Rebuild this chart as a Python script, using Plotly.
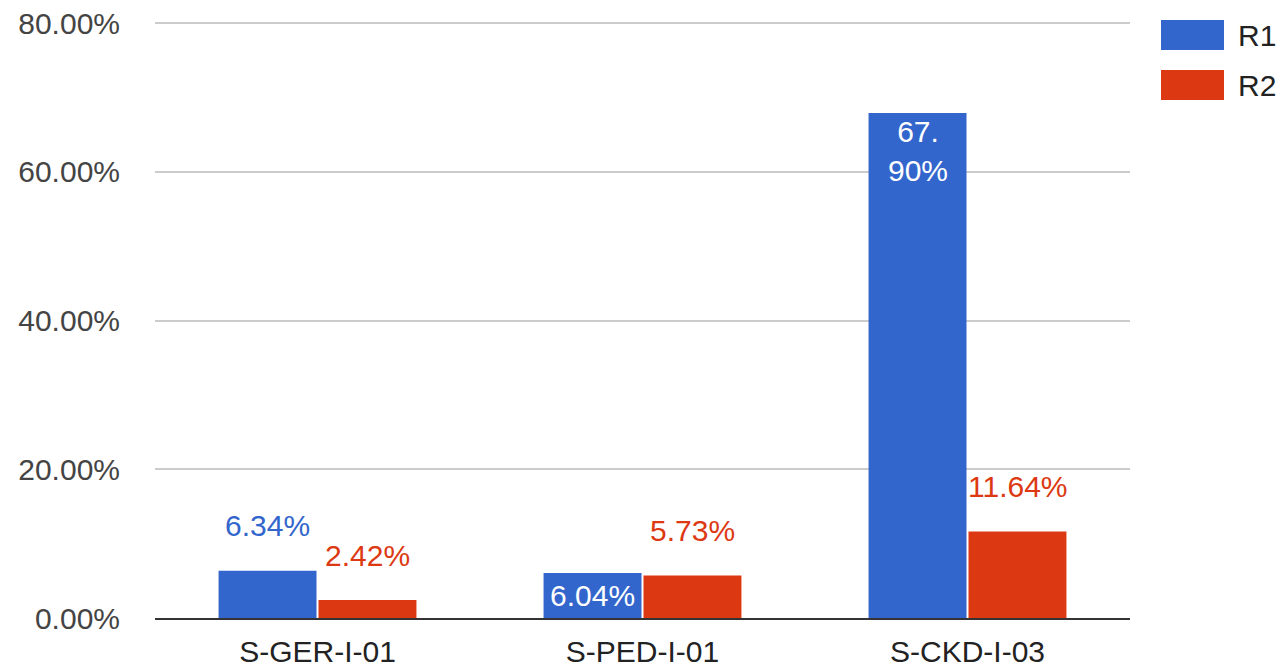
import plotly.graph_objects as go

categories = ["S-GER-I-01", "S-PED-I-01", "S-CKD-I-03"]
r1_values = [6.34, 6.04, 67.90]
r2_values = [2.42, 5.73, 11.64]
r1_labels = ["6.34%", "6.04%", "67.<br>90%"]
r2_labels = ["2.42%", "5.73%", "11.64%"]
r1_label_pos = ["outside", "inside", "inside_top"]
r2_label_pos = ["outside", "outside", "outside"]
y_ticks = [0, 20, 40, 60, 80]
y_tick_labels = ["0.00%", "20.00%", "40.00%", "60.00%", "80.00%"]

BLUE = "#3366CC"
RED = "#DC3912"
FONT = "Liberation Sans, Arial, sans-serif"
FS = 30

fig = go.Figure()
fig.add_trace(go.Bar(x=categories, y=r1_values, name="R1", marker=dict(color=BLUE, line=dict(width=0)), showlegend=False))
fig.add_trace(go.Bar(x=categories, y=r2_values, name="R2", marker=dict(color=RED, line=dict(width=0)), showlegend=False))

annotations = []
def add_labels(values, labels, positions, color, xshift):
    for c, v, t, p in zip(categories, values, labels, positions):
        if p == "outside":
            annotations.append(dict(x=c, y=v, xref="x", yref="y", text=t, showarrow=False,
                                    xshift=xshift, yshift=45, yanchor="middle",
                                    font=dict(color=color, size=FS, family=FONT)))
        elif p == "inside":
            annotations.append(dict(x=c, y=v / 2, xref="x", yref="y", text=t, showarrow=False,
                                    xshift=xshift, yanchor="middle",
                                    font=dict(color="white", size=FS, family=FONT)))
        else:
            annotations.append(dict(x=c, y=v, xref="x", yref="y", text=t, showarrow=False,
                                    xshift=xshift, yshift=-38, yanchor="middle",
                                    font=dict(color="white", size=FS, family=FONT)))

add_labels(r1_values, r1_labels, r1_label_pos, BLUE, -50)
add_labels(r2_values, r2_labels, r2_label_pos, RED, 50)

# custom legend
shapes = []
for i, (name, col) in enumerate([("R1", BLUE), ("R2", RED)]):
    shapes.append(dict(type="rect", xref="paper", yref="paper",
                       x0=(1161 - 155) / 975, x1=(1224 - 155) / 975,
                       y0=(618 - (50 + 50 * i)) / 596, y1=(618 - (20 + 50 * i)) / 596,
                       fillcolor=col, line=dict(width=0)))
    annotations.append(dict(xref="paper", yref="paper", x=(1236 - 155) / 975,
                            y=(618 - (35 + 50 * i)) / 596, text=name, showarrow=False,
                            xanchor="left", yanchor="middle",
                            font=dict(color="#222222", size=FS, family=FONT)))

fig.update_layout(
    width=1280, height=670,
    margin=dict(l=155, r=150, t=22, b=52, autoexpand=False),
    paper_bgcolor="white", plot_bgcolor="white",
    barmode="group", bargap=0.385, bargroupgap=0.02,
    font=dict(family=FONT, size=FS, color="#444444"),
    annotations=annotations, shapes=shapes,
    xaxis=dict(showgrid=False, showline=True, linecolor="#333333", linewidth=2,
               ticks="", tickfont=dict(size=FS, color="#222222"), ticklabelstandoff=6,
               automargin=False),
    yaxis=dict(range=[0, 80.15], tickvals=y_ticks, ticktext=y_tick_labels,
               showgrid=True, gridcolor="#CCCCCC", gridwidth=2, zeroline=False,
               showline=False, ticks="", ticklabelstandoff=34, automargin=False,
               tickfont=dict(size=FS, color="#444444")),
    showlegend=False,
)

fig.write_html("out.html", config={"displayModeBar": False},
               post_script="document.body.style.margin='0';")
